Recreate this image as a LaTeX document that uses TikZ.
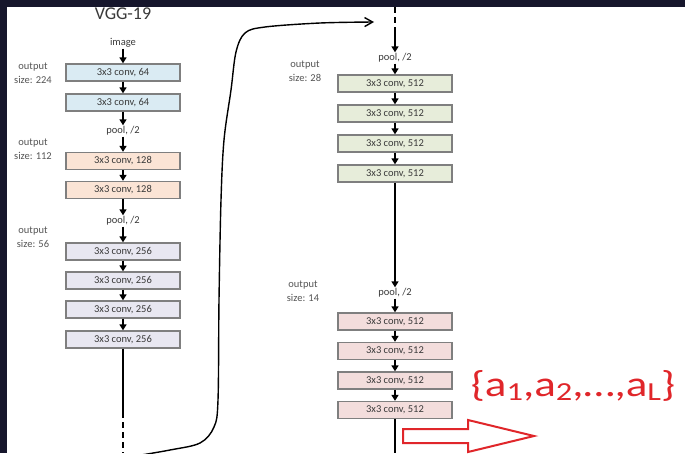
\documentclass[tikz,border=0pt]{standalone}
\usepackage{fontspec}
\setmainfont{Carlito}
\usetikzlibrary{arrows.meta}
\definecolor{bgdark}{HTML}{16162C}
\definecolor{boxborder}{HTML}{7F7F7F}
\definecolor{txt}{HTML}{3A3A3A}
\definecolor{lbltxt}{HTML}{555555}
\definecolor{cblue}{HTML}{DAEBF3}
\definecolor{cpeach}{HTML}{FBE4D5}
\definecolor{clav}{HTML}{E8E7F1}
\definecolor{cgreen}{HTML}{E7EDDA}
\definecolor{cpink}{HTML}{F3DDDC}
\definecolor{redarrow}{HTML}{E0262A}
\begin{document}
\begin{tikzpicture}[x=1pt,y=-1pt,
  conv/.style={draw=boxborder, line width=1.3pt, minimum width=114pt, minimum height=17pt, inner sep=0pt, font=\fontsize{10.5}{11}\selectfont, text=txt},
  lbl/.style={font=\fontsize{10.5}{14.5}\selectfont, text=lbltxt, align=center, inner sep=0pt},
  pool/.style={font=\fontsize{10.5}{11}\selectfont, text=txt, inner sep=1pt},
  arr/.style={-{Triangle[length=6pt,width=7pt]}, line width=1.6pt},
  seg/.style={line width=1.6pt},
]
\fill[bgdark] (0,0) rectangle (685,453);
\fill[white] (7,7) rectangle (685,453);
\useasboundingbox (0,0) rectangle (685,453);

% left column
\node[font=\fontsize{18}{19}\selectfont, text=txt] (title) at (123,14) {VGG-19};
\node[pool] (img) at (123,43) {image};
\node[conv, fill=cblue] (c1) at (123,72.5) {3x3 conv, 64};
\node[conv, fill=cblue] (c2) at (123,102.5) {3x3 conv, 64};
\node[pool] (p1) at (123,131) {pool, /2};
\node[conv, fill=cpeach] (c3) at (123,161) {3x3 conv, 128};
\node[conv, fill=cpeach] (c4) at (123,190) {3x3 conv, 128};
\node[pool] (p2) at (123,221) {pool, /2};
\node[conv, fill=clav] (c5) at (123,251.5) {3x3 conv, 256};
\node[conv, fill=clav] (c6) at (123,280.5) {3x3 conv, 256};
\node[conv, fill=clav] (c7) at (123,309.5) {3x3 conv, 256};
\node[conv, fill=clav] (c8) at (123,339.5) {3x3 conv, 256};
\coordinate (lmid) at (123,412);
\coordinate (lend) at (123,453);

\draw[arr] (img) -- (c1);
\draw[arr] (c1) -- (c2);
\draw[arr] (c2) -- (p1);
\draw[arr] (p1) -- (c3);
\draw[arr] (c3) -- (c4);
\draw[arr] (c4) -- (p2);
\draw[arr] (p2) -- (c5);
\draw[arr] (c5) -- (c6);
\draw[arr] (c6) -- (c7);
\draw[arr] (c7) -- (c8);
\draw[seg] (c8) -- (lmid);
\draw[seg, dash pattern=on 6pt off 4pt] (lmid) -- (lend);

\node[lbl] (o1) at (33,73) {output\\size: 224};
\node[lbl] (o2) at (33,149) {output\\size: 112};
\node[lbl] (o3) at (33,237) {output\\size: 56};

% right column
\coordinate (rstart) at (395,7);
\coordinate (rtop) at (395,28);
\node[pool] (rp1) at (395,58) {pool, /2};
\node[conv, fill=cgreen] (r1) at (395,83.5) {3x3 conv, 512};
\node[conv, fill=cgreen] (r2) at (395,113.5) {3x3 conv, 512};
\node[conv, fill=cgreen] (r3) at (395,143.5) {3x3 conv, 512};
\node[conv, fill=cgreen] (r4) at (395,173.5) {3x3 conv, 512};
\node[pool] (rp2) at (395,293) {pool, /2};
\node[conv, fill=cpink] (r5) at (395,321.5) {3x3 conv, 512};
\node[conv, fill=cpink] (r6) at (395,351) {3x3 conv, 512};
\node[conv, fill=cpink] (r7) at (395,380.5) {3x3 conv, 512};
\node[conv, fill=cpink] (r8) at (395,410) {3x3 conv, 512};
\coordinate (rend) at (395,453);

\draw[seg, dash pattern=on 6pt off 4pt] (rstart) -- (rtop);
\draw[arr] (rtop) -- (rp1);
\draw[arr] (rp1) -- (r1);
\draw[arr] (r1) -- (r2);
\draw[arr] (r2) -- (r3);
\draw[arr] (r3) -- (r4);
\draw[arr] (r4) -- (rp2);
\draw[arr] (rp2) -- (r5);
\draw[arr] (r5) -- (r6);
\draw[arr] (r6) -- (r7);
\draw[arr] (r7) -- (r8);
\draw[seg] (r8) -- (rend);

\node[lbl] (o4) at (305,71) {output\\size: 28};
\node[lbl] (o5) at (303,291) {output\\size: 14};

% hand-drawn connector
\coordinate (cs) at (135,456);
\coordinate (ce) at (374,22);
\draw[line width=1.4pt, -{Straight Barb[length=8pt,width=9pt]}, line join=round]
  plot[smooth, tension=0.55] coordinates {(cs) (170,450) (200,443) (214,427) (218,400) (219,300) (221,200) (224,140) (231,90) (236,52) (245,33) (265,27) (320,23) (ce)};

% red hollow arrow
\draw[redarrow, line width=2pt, line join=miter]
  (403,429) -- (468,429) -- (468,420) -- (534,436) -- (468,452) -- (468,443) -- (403,443) -- cycle;

\node[text=redarrow, font=\fontsize{36}{40}\selectfont, inner sep=0pt, xscale=1.25] (aset) at (573,386)
  {\{a\raisebox{-0.12em}{\fontsize{26}{28}\selectfont 1},a\raisebox{-0.12em}{\fontsize{26}{28}\selectfont 2},…,a\raisebox{-0.12em}{\fontsize{26}{28}\selectfont L}\}};
\end{tikzpicture}
\end{document}
